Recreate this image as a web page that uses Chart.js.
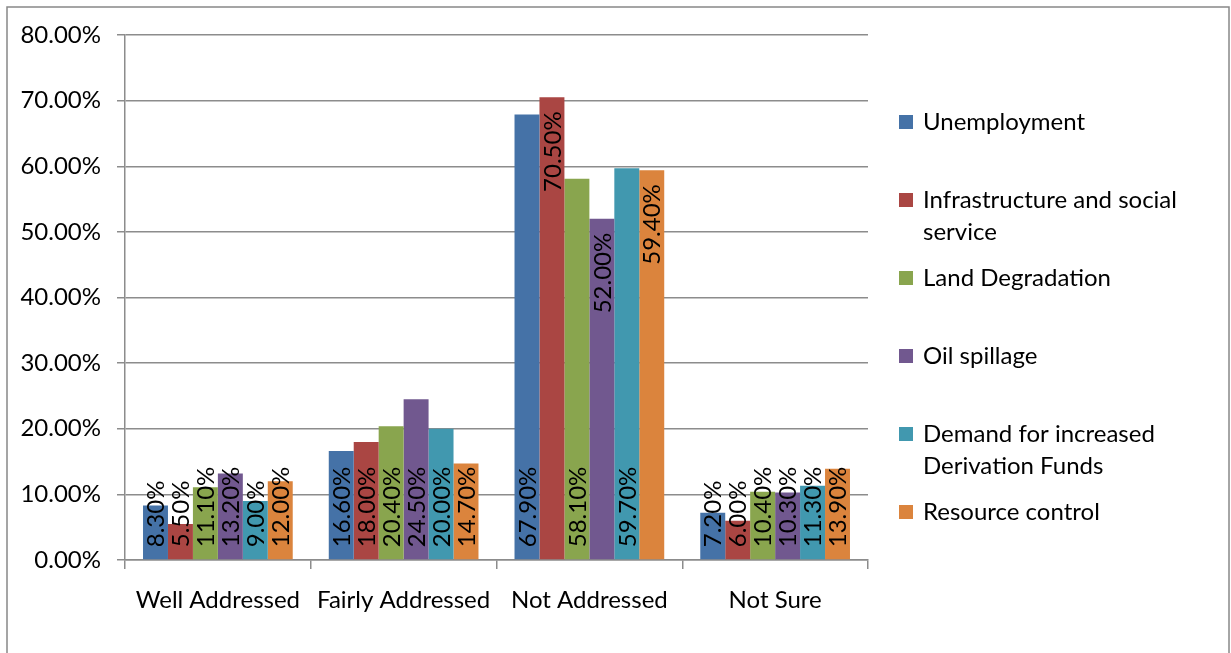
<!DOCTYPE html>
<html>
<head>
<meta charset="utf-8">
<script src="https://cdn.jsdelivr.net/npm/chart.js@4.4.1/dist/chart.umd.min.js"></script>
<style>
  html, body { margin: 0; padding: 0; background: #fff; }
  #wrap { position: relative; width: 1231px; height: 653px; }
</style>
</head>
<body>
<div id="wrap"><canvas id="chart" width="1231" height="653"></canvas></div>
<script>
const categories = ['Well Addressed', 'Fairly Addressed', 'Not Addressed', 'Not Sure'];
const seriesNames = [
  'Unemployment',
  'Infrastructure and social service',
  'Land Degradation',
  'Oil spillage',
  'Demand for increased Derivation Funds',
  'Resource control'
];
const unemployment    = [8.3, 16.6, 67.9, 7.2];
const infrastructure  = [5.5, 18.0, 70.5, 6.0];
const landDegradation = [11.1, 20.4, 58.1, 10.4];
const oilSpillage     = [13.2, 24.5, 52.0, 10.3];
const derivationFunds = [9.0, 20.0, 59.7, 11.3];
const resourceControl = [12.0, 14.7, 59.4, 13.9];
const yTicks = [0, 10, 20, 30, 40, 50, 60, 70, 80];

// which category index gets its label at the top of the bar instead of the base
const labelAtTop = [[], [2], [], [2], [], [2]];

const colors = ['#4572A7', '#AA4643', '#89A54E', '#71588F', '#4198AF', '#DB843D'];
const FONT = 'Lato, "Open Sans", sans-serif';
const FS = 24;

const seriesValues = [unemployment, infrastructure, landDegradation, oilSpillage, derivationFunds, resourceControl];

// outer frame
const framePlugin = {
  id: 'frame',
  beforeDraw(chart) {
    const ctx = chart.ctx;
    ctx.save();
    ctx.fillStyle = '#fff';
    ctx.fillRect(0, 0, chart.width, chart.height);
    ctx.strokeStyle = '#888';
    ctx.lineWidth = 1.5;
    ctx.strokeRect(7, 7, 1222, 700);
    ctx.restore();
  }
};

// rotated value labels
const valueLabels = {
  id: 'valueLabels',
  afterDatasetsDraw(chart) {
    const ctx = chart.ctx;
    ctx.save();
    ctx.fillStyle = '#000';
    ctx.font = FS + 'px ' + FONT;
    ctx.textBaseline = 'middle';
    chart.data.datasets.forEach((ds, i) => {
      chart.getDatasetMeta(i).data.forEach((bar, j) => {
        const txt = ds.data[j].toFixed(2) + '%';
        ctx.save();
        if (labelAtTop[i].includes(j)) {
          ctx.translate(bar.x, bar.y + 14);
          ctx.rotate(-Math.PI / 2);
          ctx.textAlign = 'right';
        } else {
          ctx.translate(bar.x, bar.base - 12);
          ctx.rotate(-Math.PI / 2);
          ctx.textAlign = 'left';
        }
        ctx.fillText(txt, 0, 1);
        ctx.restore();
      });
    });
    ctx.restore();
  }
};

// legend on the right with wrapped names
const sideLegend = {
  id: 'sideLegend',
  afterDraw(chart) {
    const ctx = chart.ctx;
    ctx.save();
    ctx.font = FS + 'px ' + FONT;
    ctx.textBaseline = 'middle';
    ctx.textAlign = 'left';
    const x0 = 899, tx = 923, maxW = 290;
    chart.data.datasets.forEach((ds, i) => {
      const y = 122 + i * 78;
      ctx.fillStyle = ds.backgroundColor;
      ctx.fillRect(x0, y - 7, 14, 14);
      ctx.fillStyle = '#000';
      const words = ds.label.split(' ');
      let line = '', ly = y;
      words.forEach(w => {
        const test = line ? line + ' ' + w : w;
        if (ctx.measureText(test).width > maxW && line) {
          ctx.fillText(line, tx, ly);
          line = w;
          ly += 32;
        } else {
          line = test;
        }
      });
      ctx.fillText(line, tx, ly);
    });
    ctx.restore();
  }
};

new Chart(document.getElementById('chart'), {
  type: 'bar',
  data: {
    labels: categories,
    datasets: seriesNames.map((name, i) => ({
      label: name,
      data: seriesValues[i],
      backgroundColor: colors[i],
      borderWidth: 0,
      barPercentage: 1.0,
      categoryPercentage: 0.806
    }))
  },
  options: {
    responsive: false,
    animation: false,
    layout: { padding: { left: 0, top: 35, right: 363, bottom: 0 } },
    plugins: {
      legend: { display: false },
      tooltip: { enabled: false }
    },
    scales: {
      x: {
        grid: {
          display: true,
          drawOnChartArea: false,
          offset: true,
          color: '#8c8c8c',
          lineWidth: 1.5,
          tickLength: 9
        },
        border: { color: '#8c8c8c', width: 1.5 },
        ticks: { color: '#000', font: { family: FONT, size: FS }, padding: 17 },
        afterFit(scale) { scale.height = 93; }
      },
      y: {
        min: 0,
        max: 80,
        afterBuildTicks(scale) { scale.ticks = yTicks.map(v => ({ value: v })); },
        grid: { color: '#8c8c8c', lineWidth: 1.5, tickLength: 8 },
        border: { color: '#8c8c8c', width: 1.5 },
        ticks: {
          color: '#000',
          font: { family: FONT, size: FS },
          padding: 16,
          callback: v => v.toFixed(2) + '%'
        },
        afterFit(scale) { scale.width = 125; }
      }
    }
  },
  plugins: [framePlugin, valueLabels, sideLegend]
});
</script>
</body>
</html>
